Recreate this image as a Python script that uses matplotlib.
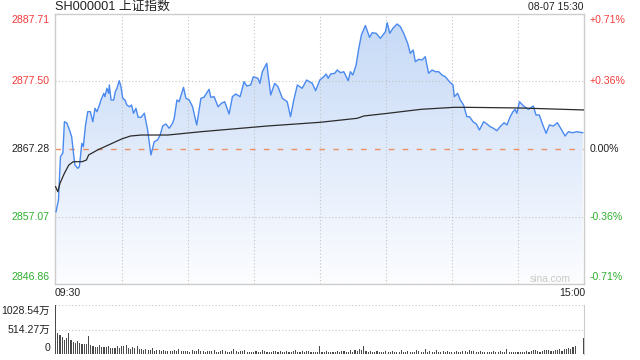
import matplotlib
matplotlib.use("Agg")
import matplotlib.pyplot as plt
import matplotlib.transforms as mtransforms
from matplotlib.colors import LinearSegmentedColormap
from matplotlib.patches import Polygon
import numpy as np

plt.rcParams['font.family'] = ['Liberation Sans', 'Noto Sans CJK SC', 'DejaVu Sans']

# ---------------- data ----------------
title = 'SH000001 上证指数'
timestamp = '08-07 15:30'
time_labels = ['09:30', '15:00']
prev_close = 2867.28
price_ticks = [2846.86, 2857.07, 2867.28, 2877.50, 2887.71]
pct_labels = ['-0.71%', '-0.36%', '0.00%', '+0.36%', '+0.71%']
vol_ticks = [0, 514.27, 1028.54]
vol_labels = ['0', '514.27万', '1028.54万']
watermark = 'sina.com'

price_minutes = [0.2, 1.3, 2.2, 3.3, 4.0, 5.1, 6.3, 7.3, 8.3, 8.8, 10.1, 10.8, 11.9, 12.6, 13.5,
                 14.6, 15.8, 16.9, 17.9, 18.8, 19.9, 20.6, 21.9, 22.4, 23.3, 24.1, 24.4, 25.2,
                 26.4, 27.1, 27.9, 28.9, 29.7, 30.5, 31.5, 32.4, 33.5, 34.5, 35.4, 36.5, 37.5,
                 38.8, 40.3, 41.8, 43.3, 44.8, 46.3, 47.5, 48.6, 50.1, 51.6, 53.1, 53.9, 55.1,
                 56.1, 58.1, 59.2, 60.7, 62.2, 64.1, 66.0, 67.4, 69.7, 70.5, 72.0, 73.8, 75.3,
                 76.8, 78.8, 80.3, 81.8, 83.8, 85.6, 86.8, 88.6, 89.8, 91.9, 92.8, 93.9, 95.9,
                 97.7, 99.5, 101.0, 103.0, 105.2, 106.7, 108.2, 109.8, 112.0, 114.0, 116.6,
                 118.1, 120.0, 121.8, 122.9, 123.8, 124.9, 126.8, 127.9, 129.4, 130.9, 132.9,
                 133.9, 135.0, 136.5, 137.7, 138.9, 140.7, 142.6, 143.8, 145.6, 147.5, 149.8,
                 150.6, 151.8, 153.2, 155.1, 156.6, 158.1, 159.9, 161.1, 162.4, 163.4, 164.9,
                 166.4, 167.9, 169.4, 171.0, 172.5, 174.0, 175.5, 177.0, 178.9, 180.5, 181.1,
                 182.6, 183.8, 185.3, 186.8, 188.0, 189.6, 191.1, 192.5, 194.4, 195.9, 197.4,
                 198.9, 200.4, 201.9, 203.7, 205.0, 206.5, 207.7, 208.7, 209.5, 210.7, 212.5,
                 214.8, 217.0, 218.2, 219.7, 221.3, 222.8, 224.3, 226.1, 227.9, 229.4, 231.4,
                 232.9, 234.9, 236.7, 239.4]
prices = [2857.80, 2859.57, 2866.12, 2866.68, 2871.41, 2871.22, 2870.16, 2869.15, 2866.12, 2864.86,
          2864.36, 2864.61, 2868.15, 2867.63, 2870.66, 2872.93, 2872.93, 2871.41, 2873.44, 2872.93,
          2873.94, 2874.70, 2875.71, 2875.20, 2876.47, 2875.71, 2876.97, 2874.70, 2874.70, 2875.95,
          2876.47, 2877.62, 2876.71, 2874.96, 2874.70, 2873.94, 2873.68, 2873.94, 2872.69, 2873.44,
          2872.08, 2872.08, 2872.69, 2870.16, 2866.38, 2868.39, 2868.65, 2869.40, 2870.76, 2871.07,
          2870.42, 2871.17, 2871.97, 2874.70, 2874.44, 2876.62, 2874.96, 2874.70, 2873.68, 2870.92,
          2874.96, 2875.11, 2876.32, 2875.11, 2875.20, 2873.68, 2874.20, 2874.44, 2872.58, 2875.20,
          2875.61, 2875.20, 2877.47, 2876.82, 2876.97, 2878.22, 2877.98, 2877.22, 2878.98, 2880.25,
          2875.45, 2877.22, 2876.71, 2874.96, 2874.44, 2872.17, 2874.70, 2876.97, 2876.47, 2877.72,
          2877.22, 2876.11, 2877.72, 2878.22, 2878.63, 2877.98, 2878.63, 2878.74, 2879.24, 2878.83,
          2878.98, 2877.62, 2878.98, 2878.48, 2879.99, 2882.52, 2884.53, 2885.97, 2884.18, 2884.88,
          2884.79, 2884.03, 2885.03, 2886.39, 2884.79, 2885.55, 2886.20, 2885.79, 2884.79, 2883.28,
          2881.76, 2882.26, 2880.49, 2880.86, 2880.75, 2881.25, 2878.74, 2879.24, 2878.98, 2878.98,
          2878.48, 2878.22, 2877.47, 2876.97, 2875.20, 2875.71, 2874.70, 2873.94, 2872.17, 2872.17,
          2871.41, 2871.07, 2870.16, 2871.41, 2871.07, 2870.66, 2870.42, 2870.05, 2870.66, 2871.26,
          2870.92, 2872.17, 2872.93, 2873.29, 2872.69, 2874.44, 2873.79, 2873.29, 2873.79, 2872.43,
          2872.43, 2870.92, 2869.66, 2870.92, 2870.76, 2871.26, 2870.42, 2869.25, 2869.90, 2869.75,
          2869.90, 2869.75]

avg_minutes = [0, 1, 2, 4, 6, 8, 12, 14, 15, 19, 24, 30, 34, 39, 51, 66, 96, 120, 137, 140,
               151, 166, 181, 187, 211, 240]
avg_prices = [2861.58, 2860.82, 2862.10, 2863.61, 2864.86, 2865.36, 2865.36, 2865.62, 2866.38,
              2867.13, 2867.89, 2868.80, 2869.25, 2869.40, 2869.40, 2869.90, 2870.76, 2871.32,
              2871.93, 2872.28, 2872.69, 2873.29, 2873.59, 2873.59, 2873.49, 2873.19]

# volume per minute (万)
volumes = [1028, 450, 400, 370, 310, 335, 450, 310, 265, 230,
           275, 230, 215, 215, 210, 380, 190, 175, 160, 145,
           190, 145, 160, 160, 175, 140, 125, 140, 175, 125,
           175, 180, 205, 125, 110, 160, 125, 170, 105, 115,
           95, 120, 90, 85, 125, 80, 90, 85, 75, 100,
           80, 70, 75, 65, 90, 80, 110, 70, 65, 75,
           70, 60, 85, 75, 70, 110, 80, 70, 60, 65,
           70, 65, 100, 60, 60, 70, 90, 75, 60, 55,
           65, 110, 70, 60, 75, 80, 100, 60, 55, 55,
           60, 70, 55, 60, 95, 65, 60, 55, 60, 70,
           65, 55, 80, 60, 55, 75, 60, 60, 70, 90,
           55, 60, 70, 55, 65, 80, 60, 55, 60, 60,
           170, 55, 60, 75, 55, 60, 50, 60, 65, 55,
           65, 80, 55, 60, 90, 60, 100, 75, 120, 95,
           180, 70, 60, 80, 60, 55, 70, 60, 55, 60,
           80, 60, 55, 65, 60, 55, 60, 85, 60, 55,
           70, 60, 55, 60, 95, 70, 60, 55, 110, 60,
           75, 60, 60, 90, 60, 55, 65, 60, 80, 60,
           60, 55, 70, 60, 55, 65, 80, 60, 90, 75,
           70, 55, 60, 65, 60, 55, 60, 55, 60, 75,
           60, 55, 70, 55, 60, 110, 55, 60, 55, 55,
           60, 55, 60, 55, 75, 60, 70, 85, 90, 80,
           60, 70, 90, 95, 95, 70, 75, 95, 100, 105,
           80, 110, 120, 125, 115, 150, 175, 8, 8, 8,
           345]

# ---------------- styling ----------------
W, H = 640, 360
RED = '#f23c3c'
GREEN = '#2fb02f'
DARK = '#222222'
GRID = '#c4c4c4'
SPINE = '#cccccc'
LINE = '#4a8af0'
XMIN, XMAX = -0.5, 240.0
YMIN, YMAX = price_ticks[0], price_ticks[-1]

fig = plt.figure(figsize=(W / 100, H / 100), dpi=100)
L, R = 54.5, 584.0
ax = fig.add_axes([L / W, 1 - 284 / H, (R - L) / W, 270 / H])
axv = fig.add_axes([L / W, 1 - 354.4 / H, (R - L) / W, 49.4 / H])

# ---- main price chart ----
ax.set_xlim(XMIN, XMAX)
ax.set_ylim(YMIN, YMAX)

poly = np.column_stack([[price_minutes[0]] + price_minutes + [price_minutes[-1]],
                        [YMIN] + prices + [YMIN]])
patch = Polygon(poly, closed=True, facecolor='none', edgecolor='none')
ax.add_patch(patch)
cmap = LinearSegmentedColormap.from_list('fill', ['#fcfdff', '#c4d8f6'])
grad = np.linspace(0, 1, 256).reshape(-1, 1)
im = ax.imshow(grad, extent=[XMIN, XMAX, YMIN, YMAX], origin='lower', aspect='auto',
               cmap=cmap, zorder=1, interpolation='bilinear')
im.set_clip_path(patch)

for t in range(30, 240, 30):
    ax.axvline(t, color=GRID, lw=0.8, ls=(0, (1, 2)), zorder=2)
for v in price_ticks[1:-1]:
    if v == prev_close:
        continue
    ax.axhline(v, color=GRID, lw=0.8, ls=(0, (1, 2)), zorder=2)
ax.axhline(prev_close, color='#ec9060', lw=1.0, ls=(0, (4, 6)), zorder=2)

ax.plot(price_minutes, prices, color=LINE, lw=1.0, zorder=4)
ax.plot(avg_minutes, avg_prices, color='#2b2b2b', lw=0.9, zorder=5)

ax.set_xticks([])
ax.set_yticks([])
for s in ax.spines.values():
    s.set_color(SPINE)
    s.set_linewidth(1.0)

ytrans = ax.get_yaxis_transform()
n = len(price_ticks)
for i, (v, pl) in enumerate(zip(price_ticks, pct_labels)):
    if v > prev_close:
        c = RED
    elif v < prev_close:
        c = GREEN
    else:
        c = DARK
    dy = 0
    if i == n - 1:
        dy = -6
    elif i == 0:
        dy = 6.5
    tl = mtransforms.offset_copy(ytrans, fig=fig, x=-4.5, y=dy, units='dots')
    ax.text(0, v, f'{v:.2f}', transform=tl, ha='right', va='center', color=c, fontsize=7.6)
    tr = mtransforms.offset_copy(ytrans, fig=fig, x=6, y=dy, units='dots')
    ax.text(1, v, pl, transform=tr, ha='left', va='center', color=c, fontsize=7.6)

ax.text(0, 1, title, transform=mtransforms.offset_copy(ax.transAxes, fig=fig, x=0.5, y=7, units='dots'),
        ha='left', va='center', color=DARK, fontsize=9.2)
ax.text(1, 1, timestamp, transform=mtransforms.offset_copy(ax.transAxes, fig=fig, x=-1, y=7, units='dots'),
        ha='right', va='center', color=DARK, fontsize=7.5)
ax.text(0, 0, time_labels[0], transform=mtransforms.offset_copy(ax.transAxes, fig=fig, x=0.5, y=-9.5, units='dots'),
        ha='left', va='center', color=DARK, fontsize=7.6)
ax.text(1, 0, time_labels[1], transform=mtransforms.offset_copy(ax.transAxes, fig=fig, x=1, y=-9.5, units='dots'),
        ha='right', va='center', color=DARK, fontsize=7.6)
ax.text(0.937, 0, watermark, transform=mtransforms.offset_copy(ax.transAxes, fig=fig, x=0, y=5, units='dots'),
        ha='center', va='center', color='#c9c9c9', fontsize=7.4, zorder=6)

# ---- volume chart ----
axv.set_xlim(XMIN, XMAX)
axv.set_ylim(vol_ticks[0], vol_ticks[-1])
axv.bar(np.arange(len(volumes)), volumes, width=0.5, color='#4a4a4a', linewidth=0, zorder=3)
for v in vol_ticks[1:]:
    axv.axhline(v, color=GRID, lw=0.8, ls=(0, (1, 2)), zorder=2)
axv.set_xticks([])
axv.set_yticks([])
for k, s in axv.spines.items():
    s.set_visible(k == 'right')
    s.set_color(SPINE)
vtrans = axv.get_yaxis_transform()
for i, (v, lab) in enumerate(zip(vol_ticks, vol_labels)):
    dy = 0
    if i == len(vol_ticks) - 1:
        dy = -6
    elif i == 0:
        dy = 6.7
    t = mtransforms.offset_copy(vtrans, fig=fig, x=-4.5, y=dy, units='dots')
    axv.text(0, v, lab, transform=t, ha='right', va='center', color=DARK, fontsize=7.6)

fig.savefig('out.png', dpi=100)
